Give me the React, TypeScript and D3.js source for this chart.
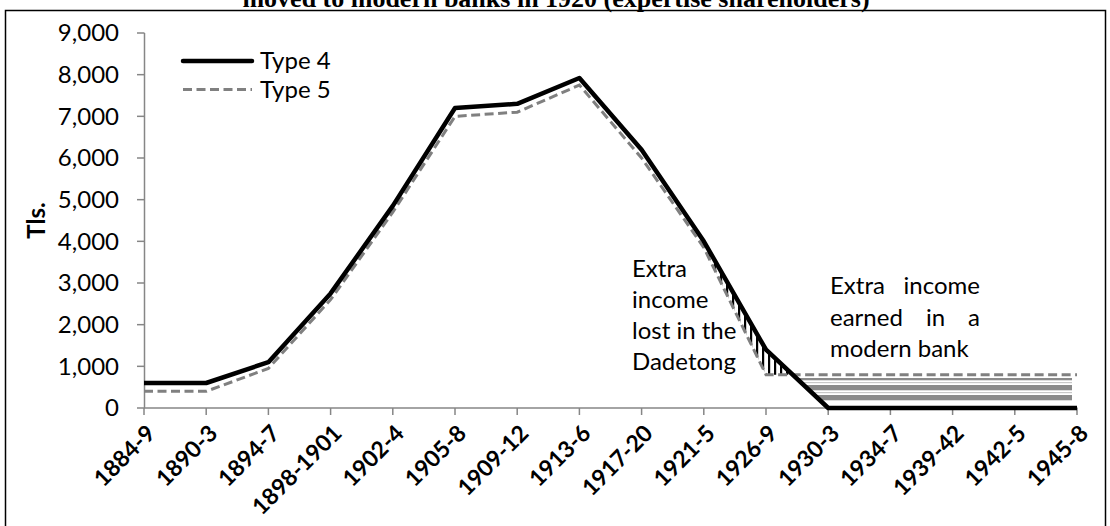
import React, { useEffect, useRef } from "react";
import * as d3 from "d3";

const categories = ["1884-9","1890-3","1894-7","1898-1901","1902-4","1905-8","1909-12","1913-6","1917-20","1921-5","1926-9","1930-3","1934-7","1939-42","1942-5","1945-8"];
const type4 = [600,600,1100,2750,4850,7200,7300,7920,6200,4000,1400,0,0,0,0,0];
const type5 = [400,400,950,2600,4700,7000,7100,7750,6000,3850,800,800,800,800,800,800];
const yTicks = [0,1000,2000,3000,4000,5000,6000,7000,8000,9000];
const seriesNames = ["Type 4","Type 5"];
const lostLines = ["Extra","income","lost in the","Dadetong"];
const earnedLines = ["Extra income","earned in a","modern bank"];
const title = "moved to modern banks in 1920 (expertise shareholders)";

const FONT = "Lato, Calibri, Carlito, sans-serif";

export default function App() {
  const ref = useRef<SVGSVGElement>(null);
  useEffect(() => {
    const svg = d3.select(ref.current!);
    svg.selectAll("*").remove();
    const x = d3.scalePoint<string>().domain(categories).range([144, 1077]);
    const y = d3.scaleLinear().domain([0, 9000]).range([408, 33]);

    // frame
    svg.append("rect").attr("x", 5.5).attr("y", 10.5).attr("width", 1100).attr("height", 530)
      .attr("fill", "none").attr("stroke", "#000").attr("stroke-width", 1.5);

    // title (cut off at top, as in the reference)
    svg.append("text").attr("x", 556).attr("y", 7).attr("text-anchor", "middle")
      .attr("font-family", "'Liberation Serif', 'Times New Roman', serif").attr("font-weight", "bold")
      .attr("font-size", 26).text(title);

    const defs = svg.append("defs");
    const pv = defs.append("pattern").attr("id", "vhatch").attr("patternUnits", "userSpaceOnUse")
      .attr("width", 6).attr("height", 10);
    pv.append("rect").attr("x", 0).attr("y", 0).attr("width", 2.2).attr("height", 10).attr("fill", "#000");
    const ph = defs.append("pattern").attr("id", "hhatch").attr("patternUnits", "userSpaceOnUse")
      .attr("width", 10).attr("height", 10).attr("y", 385);
    ph.append("rect").attr("x", 0).attr("y", 0).attr("width", 10).attr("height", 5.3).attr("fill", "#8a8a8a");
    ph.append("rect").attr("x", 0).attr("y", 7).attr("width", 10).attr("height", 1.2).attr("fill", "#c8c8c8");

    // crossing point between 1926-9 and 1930-3
    const i0 = 10, i1 = 11;
    const t = (type4[i0] - type5[i0]) / ((type4[i0] - type5[i0]) - (type4[i1] - type5[i1]));
    const xc = x(categories[i0])! + t * (x(categories[i1])! - x(categories[i0])!);
    const vc = type4[i0] + t * (type4[i1] - type4[i0]);

    type P = { xx: number; hi: number; lo: number };
    const area = d3.area<P>().x(d => d.xx).y0(d => y(d.lo)).y1(d => y(d.hi));

    // vertical hatch: income lost (type4 above type5)
    const lostPts: P[] = [];
    for (let i = 9; i <= i0; i++) lostPts.push({ xx: x(categories[i])!, hi: type4[i], lo: type5[i] });
    lostPts.push({ xx: xc, hi: vc, lo: vc });
    svg.append("path").attr("d", area(lostPts)!).attr("fill", "url(#vhatch)");

    // horizontal hatch: income earned (type5 above type4)
    const floor = 170;
    const earnPts: P[] = [{ xx: xc, hi: vc, lo: vc }];
    for (let i = i1; i < categories.length; i++) earnPts.push({ xx: x(categories[i])!, hi: type5[i], lo: type4[i] });
    defs.append("clipPath").attr("id", "earnClip").append("rect")
      .attr("x", 0).attr("y", y(720)).attr("width", x(categories[categories.length - 1])! - 5)
      .attr("height", y(floor) - y(720));
    svg.append("path").attr("d", area(earnPts)!).attr("fill", "url(#hhatch)").attr("clip-path", "url(#earnClip)");

    // axes
    const axisColor = "#868686";
    const gy = svg.append("g");
    gy.append("line").attr("x1", 144.5).attr("x2", 144.5).attr("y1", y(9000)).attr("y2", y(0))
      .attr("stroke", axisColor).attr("stroke-width", 1.5);
    yTicks.forEach(v => {
      gy.append("line").attr("x1", 137).attr("x2", 144.5).attr("y1", y(v)).attr("y2", y(v))
        .attr("stroke", axisColor).attr("stroke-width", 1.5);
      gy.append("text").attr("x", 119).attr("y", y(v)).attr("dy", "0.35em").attr("text-anchor", "end")
        .attr("font-family", FONT).attr("font-size", 24).attr("fill", "#000").text(d3.format(",")(v));
    });
    svg.append("text").attr("transform", `translate(45,${(y(0) + y(9000)) / 2}) rotate(-90)`)
      .attr("text-anchor", "middle").attr("font-family", FONT).attr("font-weight", "bold")
      .attr("font-size", 24).text("Tls.");

    const gx = svg.append("g");
    gx.append("line").attr("x1", 144).attr("x2", 1077.5).attr("y1", 408).attr("y2", 408)
      .attr("stroke", axisColor).attr("stroke-width", 1.5);
    categories.forEach(c => {
      const xx = x(c)!;
      gx.append("line").attr("x1", xx).attr("x2", xx).attr("y1", 408).attr("y2", 415)
        .attr("stroke", axisColor).attr("stroke-width", 1.5);
      gx.append("text").attr("transform", `translate(${xx + 7},${429}) rotate(-45)`)
        .attr("text-anchor", "end").attr("dy", "0.35em").attr("font-family", FONT)
        .attr("font-weight", "bold").attr("font-size", 23).text(c);
    });

    // lines
    const line = d3.line<number>().x((_, i) => x(categories[i])!).y(d => y(d));
    svg.append("path").attr("d", line(type5)!).attr("fill", "none").attr("stroke", "#808080")
      .attr("stroke-width", 3).attr("stroke-dasharray", "9,4.5");
    svg.append("path").attr("d", line(type4)!).attr("fill", "none").attr("stroke", "#000")
      .attr("stroke-width", 4.5).attr("stroke-linejoin", "round");

    // legend
    const lg = svg.append("g");
    [0, 1].forEach(k => {
      const ly = 61 + k * 28.5;
      lg.append("line").attr("x1", 183).attr("x2", 252).attr("y1", ly).attr("y2", ly)
        .attr("stroke", k === 0 ? "#000" : "#808080").attr("stroke-width", k === 0 ? 4.5 : 3)
        .attr("stroke-dasharray", k === 0 ? null : "9,4.5").attr("stroke-linecap", k === 0 ? "round" : "butt");
      lg.append("text").attr("x", 260).attr("y", ly).attr("dy", "0.35em").attr("font-family", FONT)
        .attr("font-size", 24).text(seriesNames[k]);
    });

    // annotations
    lostLines.forEach((s, i) => {
      svg.append("text").attr("x", 632).attr("y", 277 + i * 31).attr("font-family", FONT)
        .attr("font-size", 24).text(s);
    });
    const jx = 830, jw = 150;
    earnedLines.forEach((s, i) => {
      const by = 294 + i * 31.5;
      const words = s.split(" ");
      if (i === earnedLines.length - 1) {
        svg.append("text").attr("x", jx).attr("y", by).attr("font-family", FONT).attr("font-size", 24).text(s);
        return;
      }
      const nodes = words.map(w => svg.append("text").attr("y", by).attr("font-family", FONT)
        .attr("font-size", 24).text(w));
      const widths = nodes.map(n => (n.node() as SVGTextElement).getComputedTextLength());
      const total = d3.sum(widths);
      const gap = (jw - total) / (words.length - 1);
      let cx = jx;
      nodes.forEach((n, k) => { n.attr("x", cx); cx += widths[k] + gap; });
    });
  }, []);
  return (
    <div style={{ position: "absolute", left: 0, top: 0 }}>
      <svg ref={ref} width={1110} height={526} style={{ display: "block", background: "#fff" }} />
    </div>
  );
}
